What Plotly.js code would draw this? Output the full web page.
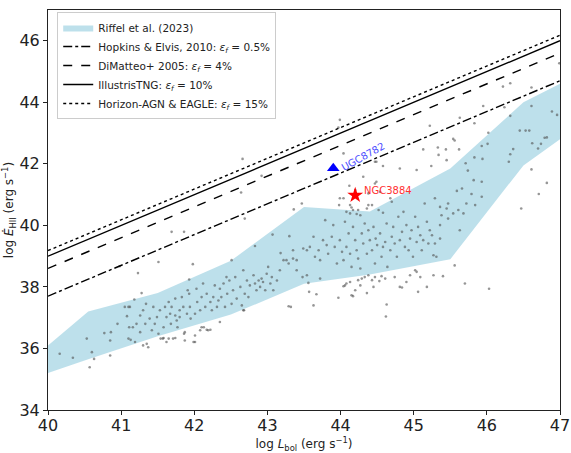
<!DOCTYPE html>
<html>
<head>
<meta charset="utf-8">
<script src="https://cdn.plot.ly/plotly-3.0.1.min.js"></script>
<style>html,body{margin:0;padding:0;background:#fff;}#chart{width:571px;height:453px;}</style>
</head>
<body>
<div id="chart"></div>
<script>
// Riffel et al. (2023) band
const bandX     = [40.0, 40.55, 41.5, 42.5, 43.5, 44.4, 45.5, 46.5, 47.0];
const bandUpper = [36.1, 37.2, 37.8, 38.85, 40.6, 40.45, 41.85, 44.0, 44.6];
const bandLower = [35.2, 35.65, 36.4, 37.1, 38.1, 38.4, 38.9, 41.95, 42.8];

// model relations (values at log Lbol = 40 and 47)
const modelX       = [40, 47];
const hopkinsY     = [37.70, 44.70];
const dimatteoY    = [38.60, 45.60];
const illustrisY   = [39.00, 46.00];
const horizonY     = [39.18, 46.18];

// sample galaxies
const samplePts = [
[40.16,35.83],[40.34,35.70],[40.53,36.32],[40.57,35.39],[40.60,35.88],[40.63,35.66],[40.77,36.50],[40.85,36.26],[40.85,35.77],[40.86,36.53],
[40.95,36.80],[40.98,38.67],[41.08,37.05],[41.10,37.35],[41.18,37.59],[41.23,38.45],[41.28,37.80],[41.51,38.81],[41.69,39.79],[41.86,39.79],
[41.93,38.24],[41.98,38.74],[42.51,38.87],[42.64,41.07],[42.66,42.16],[42.69,40.22],[42.83,39.33],[42.92,41.61],[43.07,39.70],[43.30,39.65],
[43.18,39.10],[43.26,38.87],[43.35,38.92],[43.36,40.52],[43.32,37.35],[43.40,38.54],
[41.05,37.35],[41.12,37.35],[41.11,36.69],[41.16,36.69],[41.10,36.32],[41.13,36.28],[41.19,36.21],[41.21,36.80],[41.26,37.07],[41.26,36.53],
[41.30,37.24],[41.33,36.80],[41.34,37.45],[41.35,36.15],[41.37,36.04],[41.39,36.97],[41.42,36.59],[41.44,37.35],[41.46,36.80],[41.49,37.02],
[41.51,36.48],[41.53,37.24],[41.54,36.32],[41.57,36.32],[41.58,36.69],[41.60,37.35],[41.62,37.02],[41.62,36.21],[41.65,37.51],[41.67,37.13],
[41.68,36.80],[41.69,37.35],[41.71,36.32],[41.74,37.07],[41.74,37.62],[41.76,36.91],[41.77,36.69],[41.80,37.24],[41.80,37.02],[41.83,37.67],
[41.85,37.35],[41.86,36.48],[41.87,36.53],[41.90,37.13],[41.91,37.89],[41.93,37.78],[41.94,37.35],[41.95,36.97],[41.99,36.21],[42.01,37.13],
[42.03,37.94],[42.04,37.51],[42.08,37.24],[42.10,37.67],[42.12,38.11],[42.13,36.69],[42.15,37.35],[42.17,37.78],[42.19,36.59],[42.22,37.51],
[42.24,37.24],[42.26,37.67],[42.28,38.05],[42.31,37.35],[42.33,37.56],[42.35,37.94],[42.37,37.67],[42.40,38.11],[42.42,37.35],[42.44,38.32],
[42.45,37.78],[42.48,38.21],[42.51,37.45],[42.53,37.89],[42.56,38.32],[42.58,37.62],[42.63,38.00],[42.65,37.40],[42.67,38.54],[42.68,37.24],
[42.69,37.78],[42.72,38.21],[42.74,37.67],[42.76,38.05],[42.81,38.38],[42.83,38.11],[42.85,37.89],[42.88,38.21],[42.90,38.00],[42.92,38.27],
[42.94,38.16],[42.97,37.89],[42.99,38.43],[43.01,38.65],[43.04,38.11],[43.06,38.32],[43.08,37.89],[43.13,38.21],[43.17,38.54],[43.22,38.87],
[43.29,38.76],[43.35,39.19],[43.40,38.87],
[41.30,36.10],[41.58,36.34],[41.65,36.32],[41.74,36.34],[41.87,36.26],[42.01,36.21],[42.08,36.59],[42.17,36.61],[42.22,36.61],[42.35,36.86],
[43.29,37.37],[42.67,37.24],[42.01,36.42],[42.10,36.69],
[43.49,39.25],[43.54,39.19],[43.58,39.30],[43.65,38.98],[43.72,38.87],[43.79,40.17],[43.81,39.36],[43.83,39.08],[43.88,39.63],[43.90,40.01],
[43.92,39.30],[43.95,38.76],[43.99,39.52],[44.02,39.14],[44.04,38.87],[44.06,40.12],[44.08,39.30],[44.11,39.74],[44.13,39.08],[44.15,38.65],
[44.17,39.95],[44.20,39.52],[44.22,39.19],[44.24,38.92],[44.27,38.60],[44.29,39.74],[44.31,39.41],[44.33,40.06],[44.36,39.08],[44.38,39.84],
[44.40,39.52],[44.43,39.19],[44.45,39.95],[44.47,38.76],[44.48,39.57],[44.50,39.36],[44.54,39.74],[44.56,38.98],[44.58,39.30],[44.61,39.46],
[44.63,40.06],[44.64,38.65],[44.68,39.19],[44.70,39.63],[44.72,39.95],[44.74,39.41],[44.77,38.98],[44.79,40.28],[44.81,39.52],[44.84,39.79],
[44.86,40.44],[44.88,39.30],[44.90,40.01],[44.93,39.19],[44.95,39.57],[44.97,39.84],[44.99,38.98],[45.02,40.28],[45.04,39.46],[45.06,39.95],
[45.09,39.68],[45.11,39.19],[45.13,39.52],[45.18,40.12],[45.20,39.41],[45.22,39.84],[45.25,39.68],[45.27,39.03],[45.29,39.41],[45.31,38.98],
[45.36,39.57],[45.38,40.33],[45.45,40.55],[45.47,40.22],[45.82,41.47],[45.84,40.66],[45.93,41.42],
[43.48,38.32],[43.54,38.38],[43.63,39.63],[43.70,39.19],[43.72,38.27],[43.76,39.52],
[44.81,41.85],[44.58,41.93],[44.49,42.07],[44.31,41.58],[44.47,41.36],[44.20,41.15],[44.04,40.88],[44.13,40.66],[43.99,40.88],[43.98,40.66],
[44.38,41.04],[44.54,41.09],[44.68,40.88],[44.70,40.77],[44.52,40.50],[44.58,40.41],[44.36,40.55],[44.38,40.66],[44.17,40.50],[44.13,40.39],
[44.08,40.44],[44.22,40.37],[44.27,40.33],
[43.56,38.13],[43.57,37.84],[43.67,37.76],[43.63,37.40],[43.97,37.65],[44.04,38.02],[44.06,38.05],[44.08,38.11],[44.13,38.16],[44.15,37.73],
[44.17,37.70],[44.20,37.89],[44.24,38.22],[44.27,38.05],[44.29,38.27],[44.33,38.32],[44.36,37.80],[44.38,38.38],[44.43,38.22],[44.45,38.00],
[44.47,38.32],[44.53,38.19],[44.56,38.35],[44.61,38.27],[44.63,37.43],[44.62,37.04],[44.74,38.32],[44.81,38.00],[44.84,37.98],[44.90,38.16],
[44.95,38.38],[45.02,38.54],[45.04,38.49],[45.06,37.84],[45.09,38.32],[45.18,38.00],[45.27,38.38],[45.40,38.35],[45.56,38.70],[45.70,38.11],
[46.03,37.94],
[44.04,42.34],[44.47,42.07],[44.49,41.42],[44.12,41.29],[43.47,40.71],[44.15,40.58],[44.24,40.50],[44.43,40.66],
[43.99,43.43],[43.97,43.18],
[46.22,44.51],[46.32,44.62],[46.61,44.48],[46.99,45.27],[45.95,43.88],[46.24,43.84],[45.63,43.50],[45.83,43.32],[45.22,43.24],[46.02,43.01],
[45.54,42.81],[45.56,42.76],[45.13,42.47],[45.33,42.53],[45.44,42.47],[45.62,42.47],[45.34,42.29],[45.45,42.12],[45.24,41.93],[45.04,41.80],
[46.32,43.56],[46.45,43.08],[46.53,43.08],[46.58,43.08],[46.61,43.88],[46.79,42.85],[46.82,42.86],[46.74,42.65],[46.89,43.70],[46.96,43.59],
[46.62,42.67],[46.70,42.50],[46.36,42.48],[46.32,42.31],[46.30,42.07],[45.93,42.58],[46.01,42.65],[45.83,42.21],[45.94,42.16],[45.71,42.02],
[45.74,41.78],[46.61,41.82],[46.82,41.38],[46.71,41.02],[46.47,40.55],[45.93,40.93],[45.79,41.02],[45.66,41.20],[45.59,41.12],[45.47,40.71],
[45.36,40.60],[45.29,40.88],[45.15,40.71],[45.61,40.50],[45.68,40.39],[45.54,40.39],[45.63,39.84],[45.36,40.01],[45.72,40.71]
];
const sampleX = samplePts.map(p => p[0]);
const sampleY = samplePts.map(p => p[1]);

const ugcX = [43.90], ugcY = [41.86];
const ngcX = [44.20], ngcY = [40.98];

const traces = [
  {x: bandX.concat(bandX.slice().reverse()), y: bandUpper.concat(bandLower.slice().reverse()),
   type:'scatter', mode:'lines', fill:'toself', fillcolor:'rgba(173,216,230,0.8)',
   line:{width:0, color:'rgba(173,216,230,0.8)'}, name:'Riffel et al. (2023)', hoverinfo:'skip'},
  {x: sampleX, y: sampleY, type:'scatter', mode:'markers',
   marker:{size:2.6, color:'rgba(80,80,80,0.6)'}, showlegend:false},
  {x: modelX, y: hopkinsY, type:'scatter', mode:'lines', line:{color:'black', width:1.4, dash:'dashdot'},
   name:'Hopkins & Elvis, 2010: <i>ε<sub>f</sub></i> = 0.5%'},
  {x: modelX, y: dimatteoY, type:'scatter', mode:'lines', line:{color:'black', width:1.4, dash:'dash'},
   name:'DiMatteo+ 2005: <i>ε<sub>f</sub></i> = 4%'},
  {x: modelX, y: illustrisY, type:'scatter', mode:'lines', line:{color:'black', width:1.4},
   name:'IllustrisTNG: <i>ε<sub>f</sub></i> = 10%'},
  {x: modelX, y: horizonY, type:'scatter', mode:'lines', line:{color:'black', width:1.4, dash:'dot'},
   name:'Horizon-AGN & EAGLE: <i>ε<sub>f</sub></i> = 15%'},
  {x: ugcX, y: ugcY, type:'scatter', mode:'markers', marker:{symbol:'triangle-up', size:11, color:'blue'}, showlegend:false},
  {x: ngcX, y: ngcY, type:'scatter', mode:'markers', marker:{symbol:'star', size:12, color:'red'}, showlegend:false}
];

const axisCommon = {showline:true, mirror:true, linecolor:'#222', linewidth:1, ticks:'outside', ticklen:4,
  tickwidth:1, tickcolor:'#222', showgrid:false, zeroline:false, tickfont:{size:16, color:'#222'}};

const layout = {
  width:571, height:453,
  margin:{l:48, r:11, t:10, b:43},
  paper_bgcolor:'white', plot_bgcolor:'white',
  font:{family:'DejaVu Sans, sans-serif', color:'#222'},
  showlegend:true,
  legend:{x:0.018, y:0.995, xanchor:'left', yanchor:'top', bgcolor:'rgba(255,255,255,0.8)',
    bordercolor:'#ccc', borderwidth:1, font:{size:10.5, color:'#222'}, tracegroupgap:0, itemwidth:30},
  xaxis:Object.assign({}, axisCommon, {range:[40,47], dtick:1, tick0:40, ticklabelstandoff:-3,
    title:{text:'log <i>L</i><sub>bol</sub> (erg s<sup>−1</sup>)', font:{size:12}, standoff:8}}),
  yaxis:Object.assign({}, axisCommon, {range:[34,47], tickvals:[34,36,38,40,42,44,46],
    title:{text:'log <i>Ė</i><sub>HII</sub> (erg s<sup>−1</sup>)', font:{size:12}, standoff:4}}),
  annotations:[
    {x:44.31, y:42.25, text:'UGC8782', showarrow:false, textangle:-29, font:{size:10, color:'rgb(80,80,255)'}, xanchor:'center', yanchor:'middle'},
    {x:44.29, y:41.15, text:'NGC3884', showarrow:false, font:{size:10, color:'rgb(255,50,50)'}, xanchor:'left', yanchor:'middle'}
  ]
};

Plotly.newPlot('chart', traces, layout, {displayModeBar:false, staticPlot:true});
</script>
</body>
</html>
